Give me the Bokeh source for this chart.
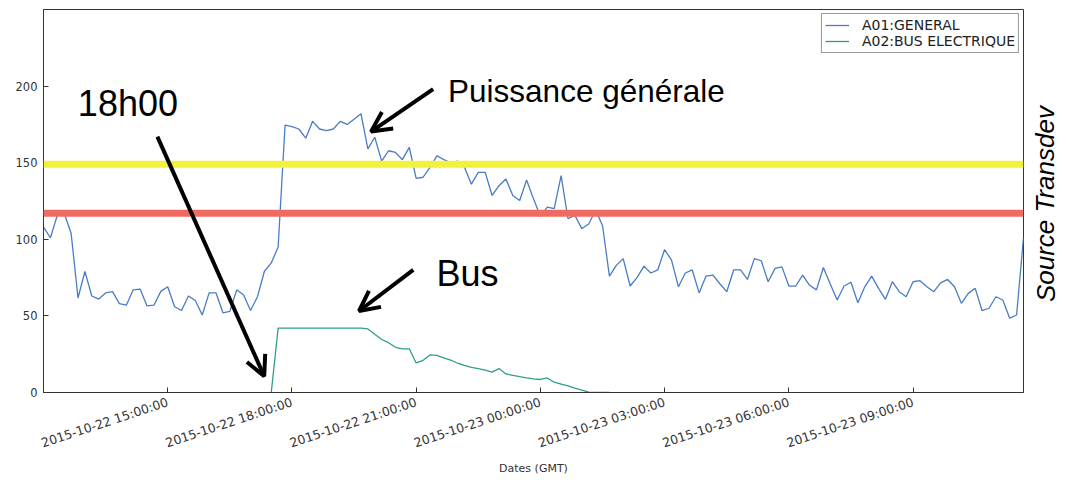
import pandas as pd
from bokeh.plotting import figure
from bokeh.layouts import row
from bokeh.models import (ColumnDataSource, Span, Label, Arrow, OpenHead, FixedTicker,
                          Range1d, Legend, LegendItem)
from bokeh.embed import file_html
from bokeh.resources import INLINE

# ---------------- data ----------------
start_time = "2015-10-22 12:00:00"
step = "10min"

general = [
    108, 101, 115.6, 117, 104, 61.7, 79, 63, 61, 65,
    65.8, 58, 57, 67, 67.5, 56.5, 57, 66, 69, 56,
    53.5, 63, 60, 50.6, 65, 65, 52, 53, 67, 63.6,
    53.5, 62.5, 79, 84.6, 95, 174.5, 173.6, 172, 166, 177,
    172, 171, 172, 177, 175, 178.4, 182, 159, 166.6, 151,
    157.8, 156.7, 152, 160, 139.8, 140.5, 147, 154.5, 152, 150,
    151, 147, 136, 143.7, 143.7, 128.6, 135, 139.4, 128.6, 125.3,
    138.7, 126.4, 115, 121, 120, 141.6, 113.4, 115.6, 107, 110,
    119, 109, 76, 83, 87.4, 69.5, 75, 82.5, 78, 80,
    93.3, 86.4, 69, 78, 80, 65, 76, 76.6, 71, 65.8,
    80, 80, 73.8, 87.4, 86, 72.3, 81, 82, 69.5, 69.5,
    76.6, 70, 67, 81.6, 70.8, 60.4, 69.5, 72, 58.6, 69,
    76, 68, 60.8, 72.3, 65.8, 62.5, 72.3, 73, 69, 65.8,
    71.6, 73.8, 69, 58.2, 64.7, 68, 53.4, 55, 62.5, 60.4,
    48.5, 50.6, 101,
]

bus_first_index = 33
bus = [
    0, 42, 42, 42, 42, 42, 42, 42, 42, 42,
    42, 42, 42, 42, 41.5, 38, 34.6, 32.5, 29.5, 28.5,
    28.5, 19.3, 21, 24.5, 24.2, 22.6, 21.2, 19.1, 17.7, 16.4,
    15.6, 14.6, 13.3, 15.6, 12.1, 11.2, 10.3, 9.5, 8.9, 8.5,
    9.5, 6.7, 5.5, 4.3, 2.8, 1.5, 0.2, 0, 0, 0,
]

x_tick_labels = [
    "2015-10-22 12:00:00", "2015-10-22 15:00:00", "2015-10-22 18:00:00",
    "2015-10-22 21:00:00", "2015-10-23 00:00:00", "2015-10-23 03:00:00",
    "2015-10-23 06:00:00", "2015-10-23 09:00:00",
]
y_ticks = [0, 50, 100, 150, 200]
y_max = 250
threshold_yellow = 149
threshold_red = 117

series_names = ["A01:GENERAL", "A02:BUS ELECTRIQUE"]

# ---------------- build ----------------
def to_ms(ts):
    return (pd.to_datetime(ts) - pd.Timestamp("1970-01-01")) // pd.Timedelta("1ms")

times = pd.date_range(start_time, periods=len(general), freq=step)
t_ms = [int(v) for v in to_ms(times)]
bus_ms = t_ms[bus_first_index:bus_first_index + len(bus)]
tick_ms = [int(to_ms(s)) for s in x_tick_labels]
t0 = t_ms[0]

def hx(h):
    return t0 + h * 3600 * 1000

src_g = ColumnDataSource(dict(t=t_ms, v=general))
src_b = ColumnDataSource(dict(t=bus_ms, v=bus))

H = 478
p = figure(width=1025, height=H, output_backend="svg", toolbar_location=None,
           x_range=Range1d(t_ms[0], t_ms[-1]), y_range=Range1d(0, y_max),
           min_border_left=43, min_border_right=2, min_border_top=9, min_border_bottom=85)
p.background_fill_color = "white"
p.border_fill_color = "white"
p.outline_line_color = "#333333"
p.grid.visible = False

r_g = p.line("t", "v", source=src_g, line_color="#4a7cc4", line_width=1.3)
r_b = p.line("t", "v", source=src_b, line_color="#2f9e88", line_width=1.3)

for loc, col in [(threshold_yellow, "#f2f23c"), (threshold_red, "#f06a62")]:
    p.add_layout(Span(location=loc, dimension="width", line_color=col, line_width=7))

# axes
xa = p.xaxis[0]
xa.ticker = FixedTicker(ticks=tick_ms)
overrides = {m: s for m, s in zip(tick_ms, x_tick_labels)}
overrides[tick_ms[0]] = ""  # cut off at the left edge in the original
xa.major_label_overrides = overrides
xa.major_label_orientation = 0.32
xa.major_label_text_font = "DejaVu Sans"
xa.major_label_text_font_size = "12.5px"
xa.major_label_text_color = "#333333"
xa.axis_label = "Dates (GMT)"
xa.axis_label_text_font = "DejaVu Sans"
xa.axis_label_text_font_size = "11px"
xa.axis_label_text_font_style = "normal"
xa.axis_label_text_color = "#333333"
xa.axis_label_standoff = 2
xa.major_label_standoff = 9

ya = p.yaxis[0]
ya.ticker = FixedTicker(ticks=y_ticks)
ya.major_label_text_font = "DejaVu Sans"
ya.major_label_text_font_size = "11.5px"
ya.major_label_text_color = "#333333"
ya.major_label_standoff = 6

for ax in (xa, ya):
    ax.axis_line_color = "#333333"
    ax.major_tick_in = 5
    ax.major_tick_out = 0
    ax.major_tick_line_color = "#333333"
    ax.minor_tick_line_color = None

# legend
legend = Legend(items=[LegendItem(label=series_names[0], renderers=[r_g]),
                       LegendItem(label=series_names[1], renderers=[r_b])],
                location="top_right")
legend.label_text_font = "DejaVu Sans"
legend.label_text_font_size = "14px"
legend.label_text_color = "#222222"
legend.label_height = 14
legend.glyph_height = 14
legend.glyph_width = 24
legend.label_standoff = 13
legend.spacing = 0
legend.padding = 3
legend.margin = 4
legend.border_line_color = "#333333"
legend.border_line_width = 1
legend.background_fill_alpha = 1
p.add_layout(legend)

# annotations
font = "Liberation Sans"
p.add_layout(Label(x=hx(0.83), y=175, text="18h00", text_font=font,
                   text_font_size="36px", text_color="black"))
p.add_layout(Label(x=hx(9.77), y=185, text="Puissance générale", text_font=font,
                   text_font_size="31.5px", text_color="black"))
p.add_layout(Label(x=hx(9.49), y=64, text="Bus", text_font=font,
                   text_font_size="36px", text_color="black"))

for (h1, v1, h2, v2) in [(2.75, 167, 5.33, 10.6), (9.41, 198, 7.91, 170.3), (8.93, 80, 7.62, 53.2)]:
    p.add_layout(Arrow(x_start=hx(h1), y_start=v1, x_end=hx(h2), y_end=v2,
                       line_color="black", line_width=4,
                       end=OpenHead(size=20, line_width=4, line_color="black")))

# side panel with the rotated source note (its frame lines up with the main frame)
W2 = 38
p2 = figure(width=W2, height=H, output_backend="svg", toolbar_location=None,
            x_range=Range1d(0, W2), y_range=Range1d(0, y_max),
            x_axis_type=None, y_axis_type=None,
            min_border_left=0, min_border_right=0, min_border_top=0, min_border_bottom=0)
p2.outline_line_color = None
p2.grid.visible = False
p2.add_layout(Label(x=35, y=59, text="Source Transdev", text_font=font,
                    text_font_size="26px", text_font_style="italic",
                    angle=1.5708, text_color="black"))

open("out.html", "w").write(file_html(row(p, p2), INLINE))
